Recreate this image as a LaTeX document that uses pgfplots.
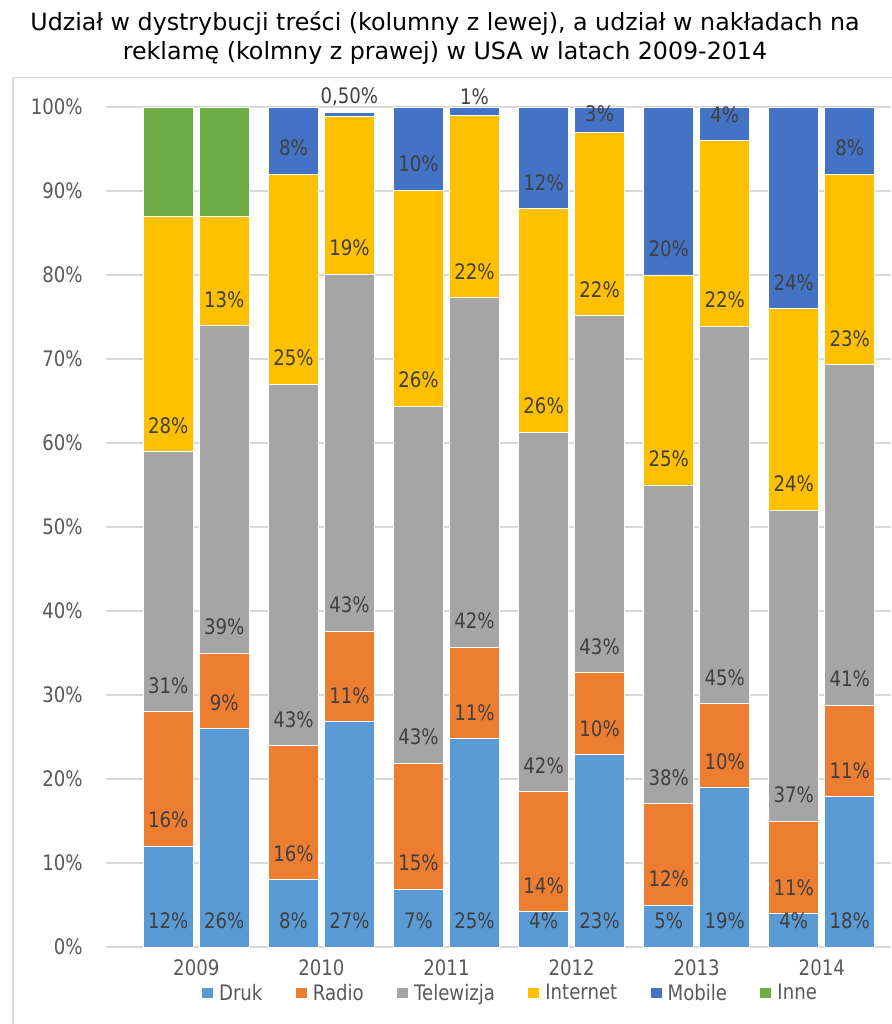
\documentclass[border=0pt]{standalone}
\usepackage{fontspec}
\setmainfont{DejaVu Sans}[FakeStretch=0.85]
\newfontfamily\titlefont{DejaVu Sans}
\usepackage{pgfplots}
\usepackage{pgfplotstable}
\pgfplotsset{compat=1.18}
\definecolor{cdruk}{HTML}{5B9BD5}
\definecolor{cradio}{HTML}{ED7D31}
\definecolor{ctv}{HTML}{A5A5A5}
\definecolor{cint}{HTML}{FFC000}
\definecolor{cmob}{HTML}{4472C4}
\definecolor{cinne}{HTML}{70AD47}
\definecolor{gridc}{HTML}{D9D9D9}
\definecolor{tickc}{HTML}{595959}
\definecolor{labc}{HTML}{404040}
\pgfplotsset{sqlegend/.style={legend image code/.code={\fill[##1,draw=none] (0pt,-4.1pt) rectangle (8.25pt,4.1pt);}}}

\pgfplotstableread{
x druk radio tv internet mobile inne
168.3 12 16 31 28 0 13
224.3 26 9 39 13 0 13
293.4 8 16 43 25 8 0
349.4 26.8 10.8 42.5 18.8 0.5 0
418.5 6.9 15 42.5 25.7 9.9 0
474.5 24.8 10.9 41.6 21.7 1.0 0
543.6 4.2 14.3 42.8 26.6 12.1 0
599.6 22.9 9.8 42.5 21.8 3.0 0
668.7 5 12.1 37.9 25 20 0
724.7 19 10 44.9 22.1 4 0
793.8 4 11 37 24 24 0
849.8 17.9 10.9 40.5 22.7 8 0
}\bars

\pgfplotstableread{
x y lab
168.3 3.1 12
168.3 15.1 16
168.3 31.1 31
168.3 62.1 28
224.3 3.1 26
224.3 29.1 9
224.3 38.1 39
224.3 77.1 13
293.4 3.1 8
293.4 11.1 16
293.4 27.1 43
293.4 70.1 25
293.4 95.1 8
349.4 3.1 27
349.4 29.9 11
349.4 40.7 43
349.4 83.2 19
349.4 101.2 0,50
418.5 3.1 7
418.5 10.0 15
418.5 25.0 43
418.5 67.5 26
418.5 93.2 10
474.5 3.1 25
474.5 27.9 11
474.5 38.8 42
474.5 80.4 22
474.5 101.2 1
543.6 3.1 4
543.6 7.3 14
543.6 21.6 42
543.6 64.4 26
543.6 91.0 12
599.6 3.1 23
599.6 26.0 10
599.6 35.8 43
599.6 78.3 22
599.6 99.2 3
668.7 3.1 5
668.7 8.1 12
668.7 20.2 38
668.7 58.1 25
668.7 83.1 20
724.7 3.1 19
724.7 22.1 10
724.7 32.1 45
724.7 77.0 22
724.7 99.1 4
793.8 3.1 4
793.8 7.1 11
793.8 18.1 37
793.8 55.1 24
793.8 79.1 24
849.8 3.1 18
849.8 21.0 11
849.8 31.9 41
849.8 72.4 23
849.8 95.1 8
}\labels

\begin{document}
\begin{tikzpicture}
\begin{scope}[x=0.75pt, y=-0.75pt, shift={(-79.5pt,710.25pt)}]
\useasboundingbox (0,0) rectangle (891,1024);
\draw[gridc, line width=1pt] (13,1030) -- (13,77.5) -- (900,77.5);
\node[anchor=base, inner sep=0pt, font=\titlefont\fontsize{17.8}{21.75}\selectfont, text=black] at (445,31)
  {Udział w dystrybucji treści (kolumny z lewej), a udział w nakładach na};
\node[anchor=base, inner sep=0pt, font=\titlefont\fontsize{17.8}{21.75}\selectfont, text=black] at (445,60)
  {reklamę (kolmny z prawej) w USA w latach 2009-2014};
\end{scope}
\begin{axis}[
  scale only axis, width=588.75pt, height=630pt,
  xmin=106, xmax=891, ymin=0, ymax=100,
  ybar stacked, bar width=50,
  axis line style={draw=none}, major tick length=0pt,
  ytick={0,10,...,100},
  yticklabels={0\%,10\%,20\%,30\%,40\%,50\%,60\%,70\%,80\%,90\%,100\%},
  ymajorgrids, grid style={draw=gridc, line width=1pt},
  xtick={196.3,321.4,446.5,571.6,696.7,821.8},
  xticklabels={2009,2010,2011,2012,2013,2014},
  tick label style={font=\fontsize{16}{19}\selectfont, text=tickc},
  yticklabel style={anchor=east, inner sep=0pt, xshift=-17.25pt},
  xticklabel style={anchor=north, inner sep=0pt, yshift=-9pt},
  every axis plot post/.append style={sqlegend},
  legend columns=6,
  legend style={at={(axis cs:509.5,-5.48)}, anchor=center, draw=none, fill=none,
    font=\fontsize{16}{19}\selectfont, text=tickc, inner sep=0pt,
    nodes={inner sep=0pt},
    /tikz/every odd column/.append style={column sep=4.5pt},
    /tikz/every even column/.append style={column sep=25pt}},
]
\addplot[fill=cdruk, draw=white, line width=0.6pt] table[x=x,y=druk]{\bars};
\addlegendentry{Druk}
\addplot[fill=cradio, draw=white, line width=0.6pt] table[x=x,y=radio]{\bars};
\addlegendentry{Radio}
\addplot[fill=ctv, draw=white, line width=0.6pt] table[x=x,y=tv]{\bars};
\addlegendentry{Telewizja}
\addplot[fill=cint, draw=white, line width=0.6pt] table[x=x,y=internet]{\bars};
\addlegendentry{Internet}
\addplot[fill=cmob, draw=white, line width=0.6pt] table[x=x,y=mobile]{\bars};
\addlegendentry{Mobile}
\addplot[fill=cinne, draw=white, line width=0.6pt] table[x=x,y=inne]{\bars};
\addlegendentry{Inne}
\end{axis}
\begin{axis}[
  scale only axis, width=588.75pt, height=630pt,
  xmin=106, xmax=891, ymin=0, ymax=100, hide axis, clip=false]
\addplot[draw=none, mark=none, point meta=explicit symbolic,
  nodes near coords={\pgfplotspointmeta\%},
  every node near coord/.append style={anchor=center, inner sep=0pt,
    font=\fontsize{16}{19}\selectfont, text=labc}]
  table[x=x,y=y,meta=lab]{\labels};
\end{axis}
\end{tikzpicture}
\end{document}
